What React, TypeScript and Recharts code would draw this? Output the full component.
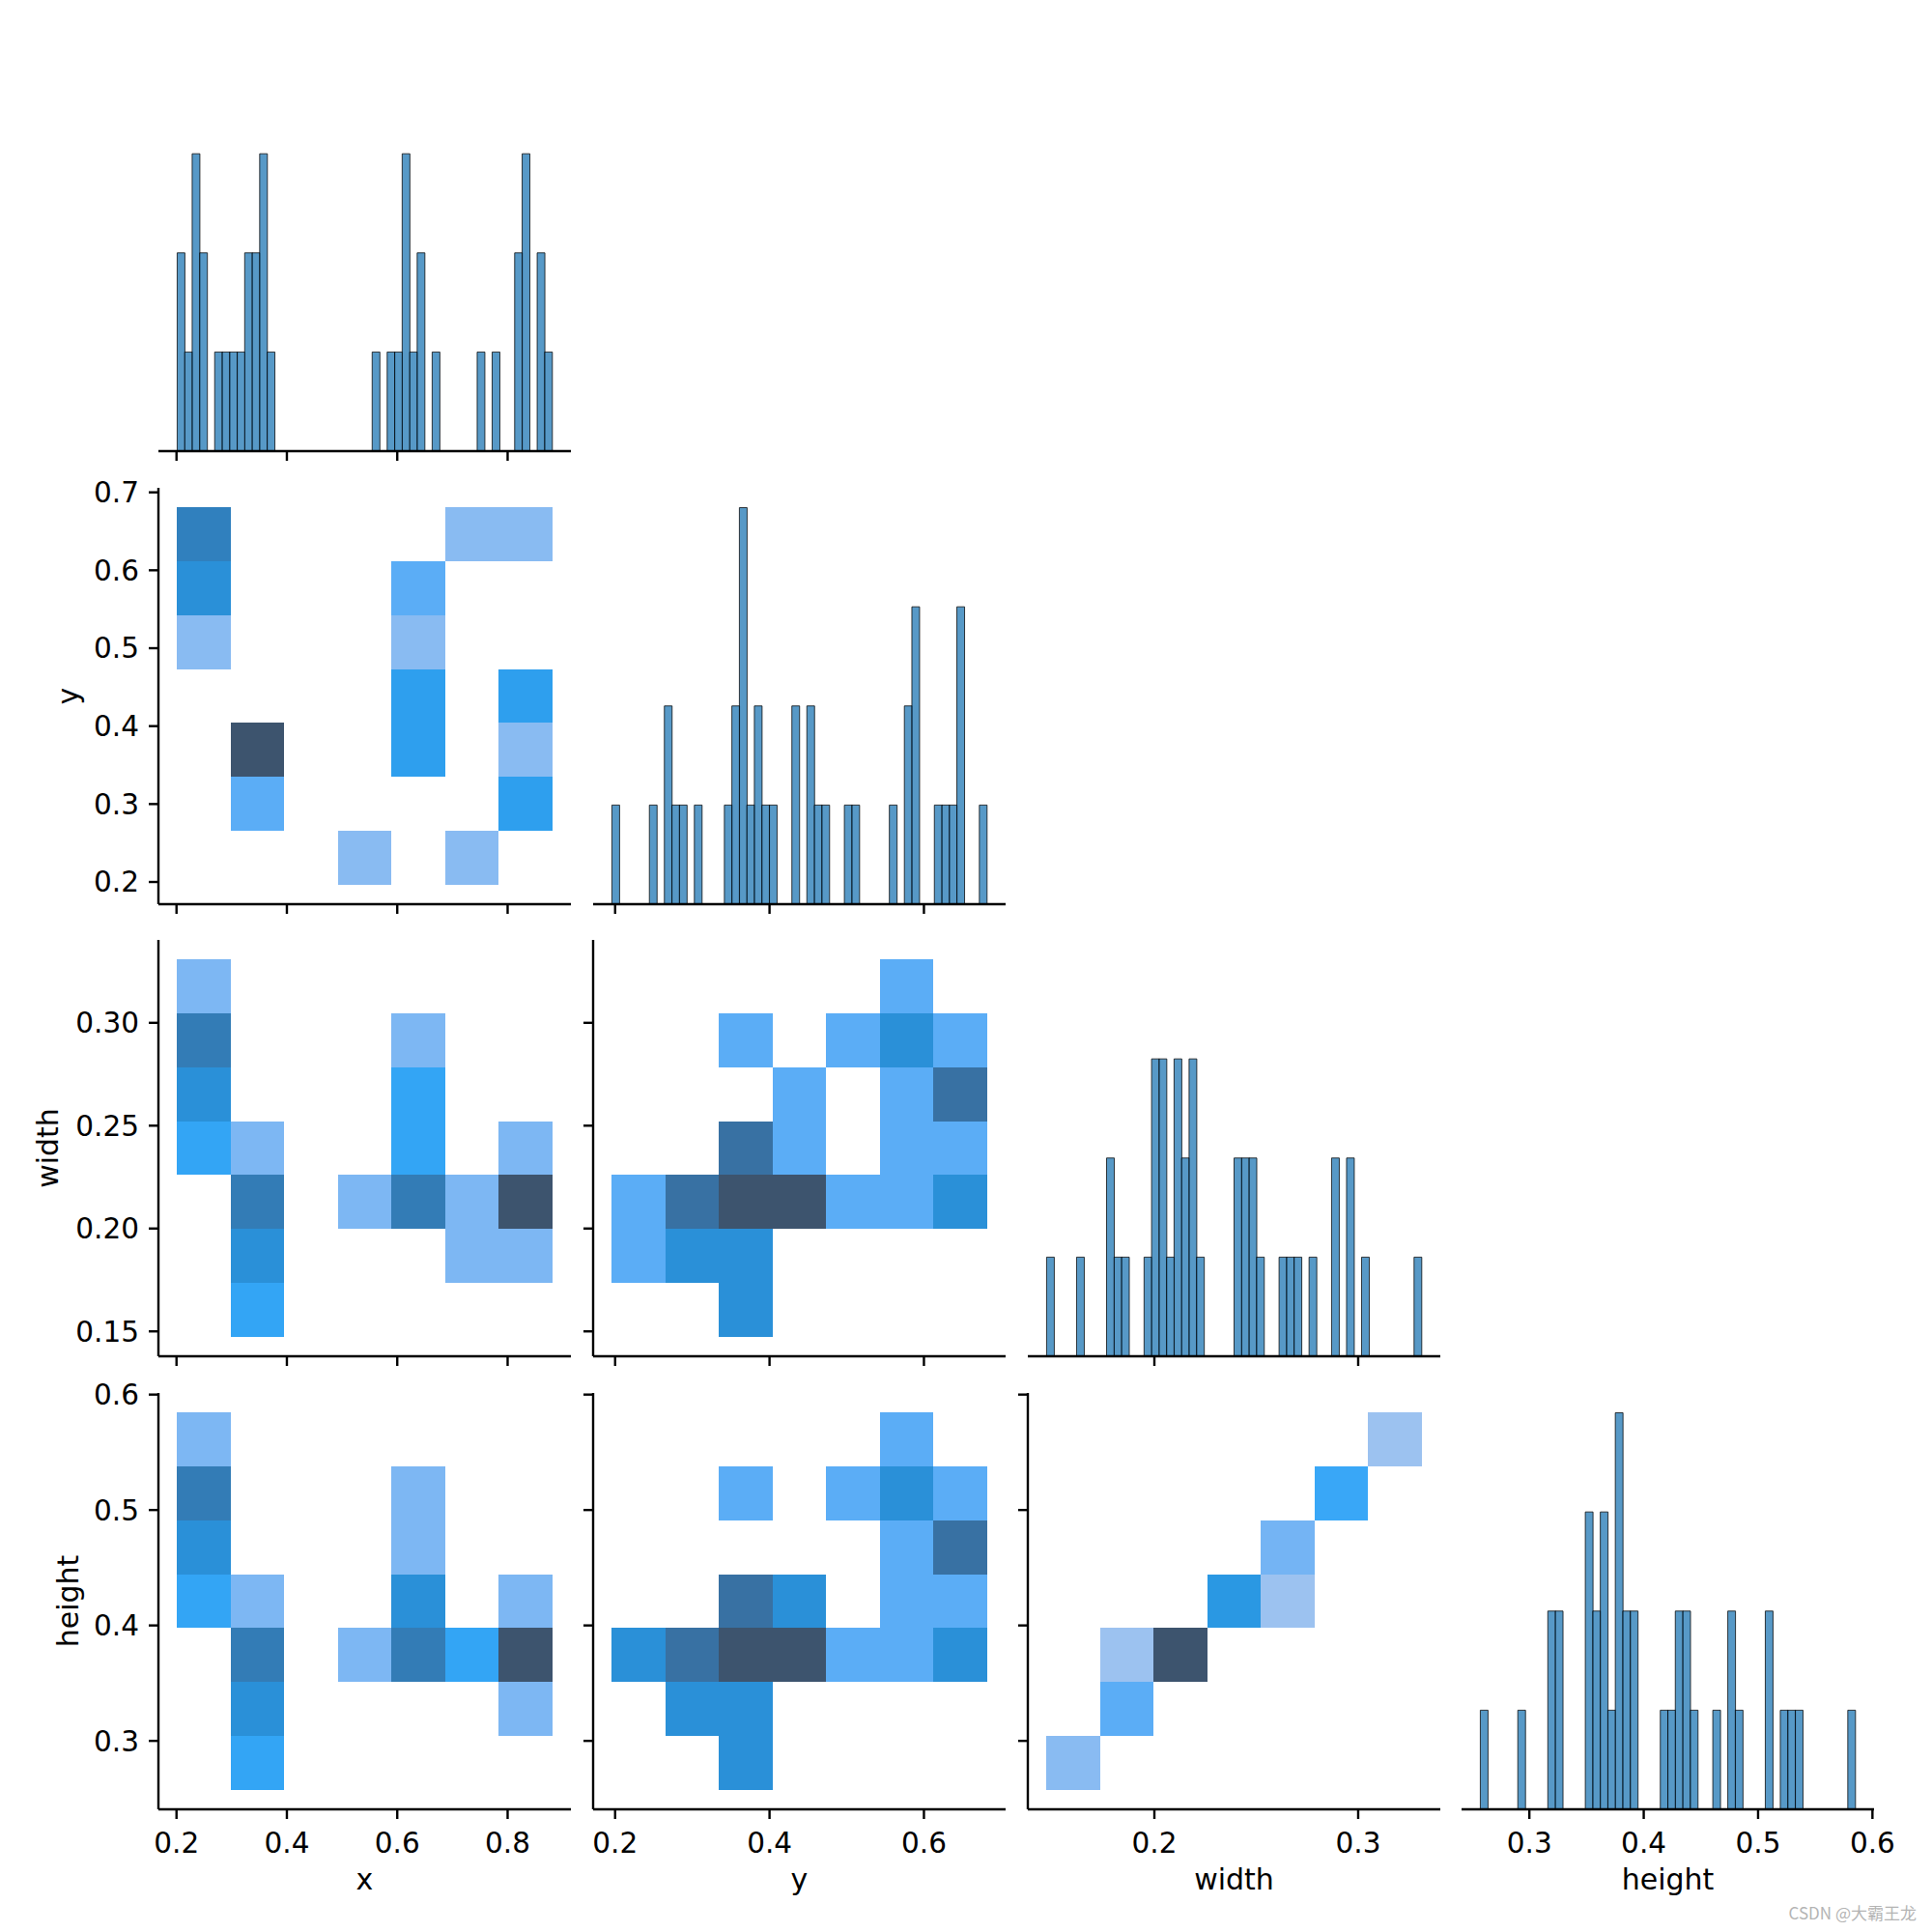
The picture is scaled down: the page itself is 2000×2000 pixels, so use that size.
import React from 'react';
import { ComposedChart, XAxis, YAxis, Bar, ReferenceArea } from 'recharts';

// ---------------- data ----------------
const variables = ['x', 'y', 'width', 'height'];

// observed min / max of each variable (histogram bin range)
const xDataRange = [0.2012, 0.8807];
const yDataRange = [0.1958, 0.6815];
const widthDataRange = [0.1471, 0.3311];
const heightDataRange = [0.2571, 0.585];

// tick values
const xColTicks = [0.2, 0.4, 0.6, 0.8];
const yColTicks = [0.2, 0.4, 0.6];
const widthColTicks = [0.2, 0.3];
const heightColTicks = [0.3, 0.4, 0.5, 0.6];
const yRowTicks = [0.2, 0.3, 0.4, 0.5, 0.6, 0.7];
const widthRowTicks = [0.15, 0.2, 0.25, 0.3];
const heightRowTicks = [0.3, 0.4, 0.5, 0.6];

// diagonal histograms: 50 bins each
const xHistCounts = [
  2, 1, 3, 2, 0, 1, 1, 1, 1, 2,
  2, 3, 1, 0, 0, 0, 0, 0, 0, 0,
  0, 0, 0, 0, 0, 0, 1, 0, 1, 1,
  3, 1, 2, 0, 1, 0, 0, 0, 0, 0,
  1, 0, 1, 0, 0, 2, 3, 0, 2, 1,
];
const yHistCounts = [
  1, 0, 0, 0, 0, 1, 0, 2, 1, 1,
  0, 1, 0, 0, 0, 1, 2, 4, 1, 2,
  1, 1, 0, 0, 2, 0, 2, 1, 1, 0,
  0, 1, 1, 0, 0, 0, 0, 1, 0, 2,
  3, 0, 0, 1, 1, 1, 3, 0, 0, 1,
];
const widthHistCounts = [
  1, 0, 0, 0, 1, 0, 0, 0, 2, 1,
  1, 0, 0, 1, 3, 3, 1, 3, 2, 3,
  1, 0, 0, 0, 0, 2, 2, 2, 1, 0,
  0, 1, 1, 1, 0, 1, 0, 0, 2, 0,
  2, 0, 1, 0, 0, 0, 0, 0, 0, 1,
];
const heightHistCounts = [
  1, 0, 0, 0, 0, 1, 0, 0, 0, 2,
  2, 0, 0, 0, 3, 2, 3, 1, 4, 2,
  2, 0, 0, 0, 1, 1, 2, 2, 1, 0,
  0, 1, 0, 2, 1, 0, 0, 0, 2, 0,
  1, 1, 1, 0, 0, 0, 0, 0, 0, 1,
];

// 2D histograms (7 x 7 bins): [column bin, row bin (from bottom), count]
const xyCells = [
  [0, 4, 1], [0, 5, 4], [0, 6, 5], [1, 1, 2], [1, 2, 8], [3, 0, 1], [4, 2, 3], [4, 3, 3],
  [4, 4, 1], [4, 5, 2], [5, 0, 1], [5, 6, 1], [6, 1, 3], [6, 2, 1], [6, 3, 3], [6, 6, 1],
];
const xWidthCells = [
  [0, 3, 2], [0, 4, 3], [0, 5, 4], [0, 6, 1], [1, 0, 2], [1, 1, 3], [1, 2, 4], [1, 3, 1],
  [3, 2, 1], [4, 2, 4], [4, 3, 2], [4, 4, 2], [4, 5, 1], [5, 1, 1], [5, 2, 1], [6, 1, 1],
  [6, 2, 6], [6, 3, 1],
];
const xHeightCells = [
  [0, 3, 2], [0, 4, 3], [0, 5, 4], [0, 6, 1], [1, 0, 2], [1, 1, 3], [1, 2, 4], [1, 3, 1],
  [3, 2, 1], [4, 2, 4], [4, 3, 3], [4, 4, 1], [4, 5, 1], [5, 2, 2], [6, 1, 1], [6, 2, 6],
  [6, 3, 1],
];
const yWidthCells = [
  [0, 1, 1], [0, 2, 1], [1, 1, 2], [1, 2, 3], [2, 0, 2], [2, 1, 2], [2, 2, 4], [2, 3, 3],
  [2, 5, 1], [3, 2, 4], [3, 3, 1], [3, 4, 1], [4, 2, 1], [4, 5, 1], [5, 2, 1], [5, 3, 1],
  [5, 4, 1], [5, 5, 2], [5, 6, 1], [6, 2, 2], [6, 3, 1], [6, 4, 3], [6, 5, 1],
];
const yHeightCells = [
  [0, 2, 2], [1, 1, 2], [1, 2, 3], [2, 0, 2], [2, 1, 2], [2, 2, 4], [2, 3, 3], [2, 5, 1],
  [3, 2, 4], [3, 3, 2], [4, 2, 1], [4, 5, 1], [5, 2, 1], [5, 3, 1], [5, 4, 1], [5, 5, 2],
  [5, 6, 1], [6, 2, 2], [6, 3, 1], [6, 4, 3], [6, 5, 1],
];
const widthHeightCells = [
  [0, 0, 2], [1, 1, 4], [1, 2, 1], [2, 2, 16], [3, 3, 7], [4, 3, 1], [4, 4, 3], [5, 5, 5], [6, 6, 1],
];

const watermark = 'CSDN @大霸王龙';

// ---------------- seaborn-like colormap (husl ramp) ----------------
const BASE = '#1f77b4';
const HM = [[3.2406, -1.5372, -0.4986], [-0.9689, 1.8758, 0.0415], [0.0557, -0.204, 1.057]];
const HM_INV = [[0.4124, 0.3576, 0.1805], [0.2126, 0.7152, 0.0722], [0.0193, 0.1192, 0.9505]];
const REF_U = 0.19784;
const REF_V = 0.46834;
const LAB_E = 0.008856;
const LAB_K = 903.3;

function maxChroma(L: number, H: number) {
  const hrad = (H * Math.PI) / 180;
  const sinH = Math.sin(hrad);
  const cosH = Math.cos(hrad);
  const sub1 = Math.pow(L + 16, 3) / 1560896;
  const sub2 = sub1 > 0.008856 ? sub1 : L / 903.3;
  let result = Infinity;
  for (const [m1, m2, m3] of HM) {
    const top = (0.99915 * m1 + 1.05122 * m2 + 1.1446 * m3) * sub2;
    const rbottom = 0.8633 * m3 - 0.17266 * m2;
    const lbottom = 0.12949 * m3 - 0.38848 * m1;
    const bottom = (rbottom * sinH + lbottom * cosH) * sub2;
    for (const t of [0, 1]) {
      const C = (L * (top - 1.05122 * t)) / (bottom + 0.17266 * sinH * t);
      if (C > 0 && C < result) result = C;
    }
  }
  return result;
}
const fwd = (t: number) => (t > LAB_E ? Math.cbrt(t) : 7.787 * t + 16 / 116);
const finv = (t: number) => (t * t * t > LAB_E ? t * t * t : (116 * t - 16) / LAB_K);
const toLin = (c: number) => (c > 0.04045 ? Math.pow((c + 0.055) / 1.055, 2.4) : c / 12.92);
const fromLin = (c: number) => (c <= 0.0031308 ? 12.92 * c : 1.055 * Math.pow(c, 1 / 2.4) - 0.055);

function rgbToHusl(r: number, g: number, b: number) {
  const rl = [r, g, b].map(toLin);
  const [X, Y, Z] = HM_INV.map((row) => row[0] * rl[0] + row[1] * rl[1] + row[2] * rl[2]);
  const denom = X + 15 * Y + 3 * Z;
  const varU = (4 * X) / denom;
  const varV = (9 * Y) / denom;
  const L = 116 * fwd(Y) - 16;
  const U = 13 * L * (varU - REF_U);
  const V = 13 * L * (varV - REF_V);
  const C = Math.hypot(U, V);
  let H = (Math.atan2(V, U) * 180) / Math.PI;
  if (H < 0) H += 360;
  return [H, (C / maxChroma(L, H)) * 100, L];
}
function huslToRgb(H: number, S: number, L: number) {
  const C = (maxChroma(L, H) / 100) * S;
  const hrad = (H * Math.PI) / 180;
  const U = Math.cos(hrad) * C;
  const V = Math.sin(hrad) * C;
  const Y = finv((L + 16) / 116);
  const varU = U / (13 * L) + REF_U;
  const varV = V / (13 * L) + REF_V;
  const X = 0 - (9 * Y * varU) / ((varU - 4) * varV - varU * varV);
  const Z = (9 * Y - 15 * varV * Y - varV * X) / (3 * varV);
  return HM.map((row) => fromLin(row[0] * X + row[1] * Y + row[2] * Z));
}
function buildCmap(hex: string) {
  const r = parseInt(hex.slice(1, 3), 16) / 255;
  const g = parseInt(hex.slice(3, 5), 16) / 255;
  const b = parseInt(hex.slice(5, 7), 16) / 255;
  const [h, s] = rgbToHusl(r, g, b);
  const n = Math.floor(1.15 * 256);
  const cols: string[] = [];
  for (let i = 0; i < 256; i++) {
    const xx = -1 + (2 * i) / (n - 1);
    const L = 35 + (45 * i) / 255;
    const rgb = huslToRgb(h, s * Math.cos(xx), L).map((v) => Math.min(1, Math.max(0, v)));
    cols.push('#' + rgb.map((v) => Math.round(v * 255).toString(16).padStart(2, '0')).join(''));
  }
  return cols.reverse();
}
const CMAP = buildCmap(BASE);
const cellColor = (count: number, vmax: number) => CMAP[Math.min(255, Math.floor((count / vmax) * 256))];

// ---------------- layout ----------------
const FONT = '"DejaVu Sans", Verdana, sans-serif';
const PL = [164, 614, 1064, 1513];
const PT = [36, 505, 973, 1442];
const PW = 427;
const PH = 431;
const ML = 150;
const MT = 30;
const MR = 40;
const MB = 120;
const CW = ML + PW + MR;
const CH = MT + PH + MB;
const TICK_FS = 29.5;
const TITLE_FS = 30;
const LW = 2.4;
const Y_TITLE_CX = [0, 70, 49, 70];

const ranges = [xDataRange, yDataRange, widthDataRange, heightDataRange];
const colTicks = [xColTicks, yColTicks, widthColTicks, heightColTicks];
const rowTicks = [xColTicks, yRowTicks, widthRowTicks, heightRowTicks];
const rowDecimals = [1, 1, 2, 1];
const histCounts = [xHistCounts, yHistCounts, widthHistCounts, heightHistCounts];
const diagMax = Math.max(...histCounts.map((c) => Math.max(...c)));

const paddedDomain = (r: number[]) => {
  const span = r[1] - r[0];
  return [r[0] - 0.05 * span, r[1] + 0.05 * span];
};
const binEdges = (r: number[], n: number) =>
  Array.from({ length: n + 1 }, (_, i) => r[0] + ((r[1] - r[0]) * i) / n);

const tickStyle = { fontSize: TICK_FS, fill: '#000', fontFamily: FONT };
const lineStyle = { stroke: '#000', strokeWidth: LW };
const NoLabel = () => <g />;

function xAxisEl(col: number, row: number) {
  const labelled = row === 3;
  return (
    <XAxis
      type="number"
      dataKey="center"
      scale="linear"
      domain={paddedDomain(ranges[col])}
      allowDataOverflow
      ticks={colTicks[col]}
      interval={0}
      height={MB}
      tickSize={10}
      tickMargin={14}
      axisLine={lineStyle}
      tickLine={lineStyle}
      tick={labelled ? tickStyle : NoLabel}
      tickFormatter={(v: number) => v.toFixed(1)}
      label={
        labelled
          ? {
              content: (p: any) => {
                const vb = p.viewBox;
                return (
                  <text
                    x={vb.x + vb.width / 2}
                    y={vb.y + 83}
                    textAnchor="middle"
                    fontSize={TITLE_FS}
                    fontFamily={FONT}
                    fill="#000"
                  >
                    {variables[col]}
                  </text>
                );
              },
            }
          : undefined
      }
    />
  );
}

function HeatPanel({ row, col, cells }: { row: number; col: number; cells: number[][] }) {
  const xe = binEdges(ranges[col], 7);
  const ye = binEdges(ranges[row], 7);
  const vmax = Math.max(...cells.map((c) => c[2]));
  const left = PL[col] - ML;
  const labelled = col === 0;
  return (
    <div style={{ position: 'absolute', left, top: PT[row] - MT }}>
      <ComposedChart width={CW} height={CH} margin={{ top: MT, right: MR, bottom: 0, left: 0 }}>
        {xAxisEl(col, row)}
        <YAxis
          type="number"
          scale="linear"
          domain={paddedDomain(ranges[row])}
          allowDataOverflow
          ticks={rowTicks[row]}
          interval={0}
          width={ML}
          tickSize={10}
          tickMargin={10}
          axisLine={lineStyle}
          tickLine={lineStyle}
          tick={labelled ? tickStyle : NoLabel}
          tickFormatter={(v: number) => v.toFixed(rowDecimals[row])}
          label={
            labelled
              ? {
                  content: (p: any) => {
                    const vb = p.viewBox;
                    const cx = Y_TITLE_CX[row] - left;
                    const cy = vb.y + vb.height / 2;
                    return (
                      <text
                        x={cx}
                        y={cy}
                        transform={`rotate(-90 ${cx} ${cy})`}
                        textAnchor="middle"
                        dominantBaseline="central"
                        fontSize={TITLE_FS}
                        fontFamily={FONT}
                        fill="#000"
                      >
                        {variables[row]}
                      </text>
                    );
                  },
                }
              : undefined
          }
        />
        {cells.map(([i, j, c], k) => (
          <ReferenceArea
            key={k}
            x1={xe[i]}
            x2={xe[i + 1]}
            y1={ye[j]}
            y2={ye[j + 1]}
            fill={cellColor(c, vmax)}
            fillOpacity={1}
            stroke="none"
            strokeWidth={0}
            shapeRendering="crispEdges"
            ifOverflow="visible"
          />
        ))}
      </ComposedChart>
    </div>
  );
}

function HistPanel({ idx }: { idx: number }) {
  const counts = histCounts[idx];
  const edges = binEdges(ranges[idx], counts.length);
  const data = counts.map((c, i) => ({ center: (edges[i] + edges[i + 1]) / 2, count: c }));
  return (
    <div style={{ position: 'absolute', left: PL[idx] - ML, top: PT[idx] - MT }}>
      <ComposedChart
        width={CW}
        height={CH}
        data={data}
        margin={{ top: MT, right: MR, bottom: 0, left: ML }}
        barCategoryGap={0}
        barGap={0}
      >
        {xAxisEl(idx, idx)}
        <YAxis hide type="number" domain={[0, diagMax * 1.05]} allowDataOverflow />
        <Bar
          dataKey="count"
          fill={BASE}
          fillOpacity={0.75}
          stroke="#000"
          strokeOpacity={0.75}
          strokeWidth={1}
          isAnimationActive={false}
        />
      </ComposedChart>
    </div>
  );
}

export default function App() {
  return (
    <div style={{ position: 'absolute', left: 0, top: 0, width: 2000, height: 2000, background: '#fff' }}>
      <HistPanel idx={0} />
      <HeatPanel row={1} col={0} cells={xyCells} />
      <HistPanel idx={1} />
      <HeatPanel row={2} col={0} cells={xWidthCells} />
      <HeatPanel row={2} col={1} cells={yWidthCells} />
      <HistPanel idx={2} />
      <HeatPanel row={3} col={0} cells={xHeightCells} />
      <HeatPanel row={3} col={1} cells={yHeightCells} />
      <HeatPanel row={3} col={2} cells={widthHeightCells} />
      <HistPanel idx={3} />
      <svg
        width={2000}
        height={2000}
        style={{ position: 'absolute', left: 0, top: 0, pointerEvents: 'none' }}
      >
        <text
          x={1984}
          y={1987}
          textAnchor="end"
          fontSize={17}
          fill="#b4b4b4"
          fontFamily='"Noto Sans CJK SC", "DejaVu Sans", sans-serif'
        >
          {watermark}
        </text>
      </svg>
    </div>
  );
}
